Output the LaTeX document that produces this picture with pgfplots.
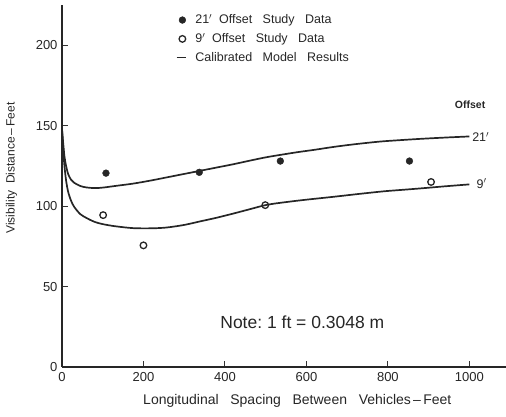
\documentclass[border=0pt]{standalone}
\usepackage{pgfplots}
\pgfplotsset{compat=1.18}
\usepackage{fontspec}
\setmainfont{Liberation Sans}
\begin{document}
\begin{tikzpicture}[x=1pt,y=1pt]
\useasboundingbox (-62,-50) rectangle (444,362+5);
\begin{axis}[
  at={(0,0)}, anchor=south west,
  scale only axis, width=444pt, height=362pt,
  xmin=0, xmax=1090, ymin=0, ymax=225,
  axis lines*=left,
  axis line style={black!85, line width=1.5pt},
  xtick={0,200,400,600,800,1000},
  ytick={0,50,100,150,200},
  tick align=inside,
  major tick length=6pt,
  tick style={black!80, line width=1pt},
  /pgf/number format/assume math mode=true,
  /pgf/number format/1000 sep={},
  ticklabel style={font=\fontsize{13}{14}\selectfont, black!85},
  xticklabel style={yshift=-2pt},
  yticklabel style={xshift=-1pt},
  xlabel={Longitudinal\ \ \ Spacing\ \ \ Between\ \ \ Vehicles\,--\,Feet},
  ylabel={Visibility\ \ Distance\,--\,Feet},
  xlabel style={font=\fontsize{14}{15}\selectfont, black!85, at={(axis description cs:0.53,-0.065)}, anchor=north},
  ylabel style={font=\fontsize{12}{13}\selectfont, black!85, at={(axis description cs:-0.093,0.55)}, anchor=south},
  legend style={at={(axis description cs:0.25,0.985)}, anchor=north west, draw=none, fill=none,
    font=\fontsize{12.5}{13}\selectfont, row sep=4pt, text=black!85},
  legend cell align=left,
  clip=false,
]
% 21' offset study data
\addplot[only marks, mark=*, mark size=3.4pt, black!85] coordinates {
  (108,120.5) (337,121) (536,128) (853,128)
};
\addlegendentry{\hspace{7pt}21$'$\ \ Offset\ \ \ Study\ \ \ Data}
% 9' offset study data
\addplot[only marks, mark=o, mark size=3.3pt, black!85, line width=1.3pt] coordinates {
  (101,94.4) (200,75.6) (499,100.6) (906,115)
};
\addlegendentry{\hspace{7pt}9$'$\ \ Offset\ \ \ Study\ \ \ Data}
% calibrated model 21'
\addplot[black!85, line width=1.7pt, smooth,
  legend image code/.code={\draw[black!85, line width=1pt] (0.1cm,0cm) -- (0.42cm,0cm);}] coordinates {
  (0,148) (3,139) (6,131) (10,125) (15,120) (22,116.5) (30,114.5) (45,112.5) (60,111.6)
  (80,111.2) (100,111.5) (130,112.5) (175,114) (220,116) (260,118) (300,120) (340,122)
  (380,124) (420,126) (460,128.2) (500,130.3) (540,132) (580,133.6) (620,135) (667,136.8)
  (720,138.5) (780,140.1) (830,141) (880,141.8) (940,142.6) (1000,143.3)
};
\addlegendentry{\hspace{7pt}Calibrated\ \ \ Model\ \ \ Results}
% calibrated model 9'
\addplot[black!85, line width=1.7pt, smooth, forget plot] coordinates {
  (0,148) (3,135) (6,125) (10,116) (15,109) (22,103.5) (30,99.5) (45,95) (61,92.5)
  (80,90.2) (100,88.8) (130,87.5) (175,86.3) (220,86.2) (257,86.7) (300,88.3) (339,90.5)
  (380,92.8) (421,95.4) (460,98) (503,100.8) (550,102.5) (600,104) (667,105.8) (730,107.6)
  (790,109.2) (830,110) (880,111) (940,112.3) (1000,113.5)
};
\node[font=\fontsize{10.5}{11}\selectfont\bfseries, black!85] at (axis cs:1002,163) {Offset};
\node[font=\fontsize{12.5}{13}\selectfont, black!85] at (axis cs:1028,143) {21$'$};
\node[font=\fontsize{12.5}{13}\selectfont, black!85] at (axis cs:1030,114) {9$'$};
\node[font=\fontsize{17.5}{18}\selectfont, black!85] at (axis cs:590,28) {Note:\ 1 ft = 0.3048 m};
\end{axis}
\end{tikzpicture}
\end{document}
